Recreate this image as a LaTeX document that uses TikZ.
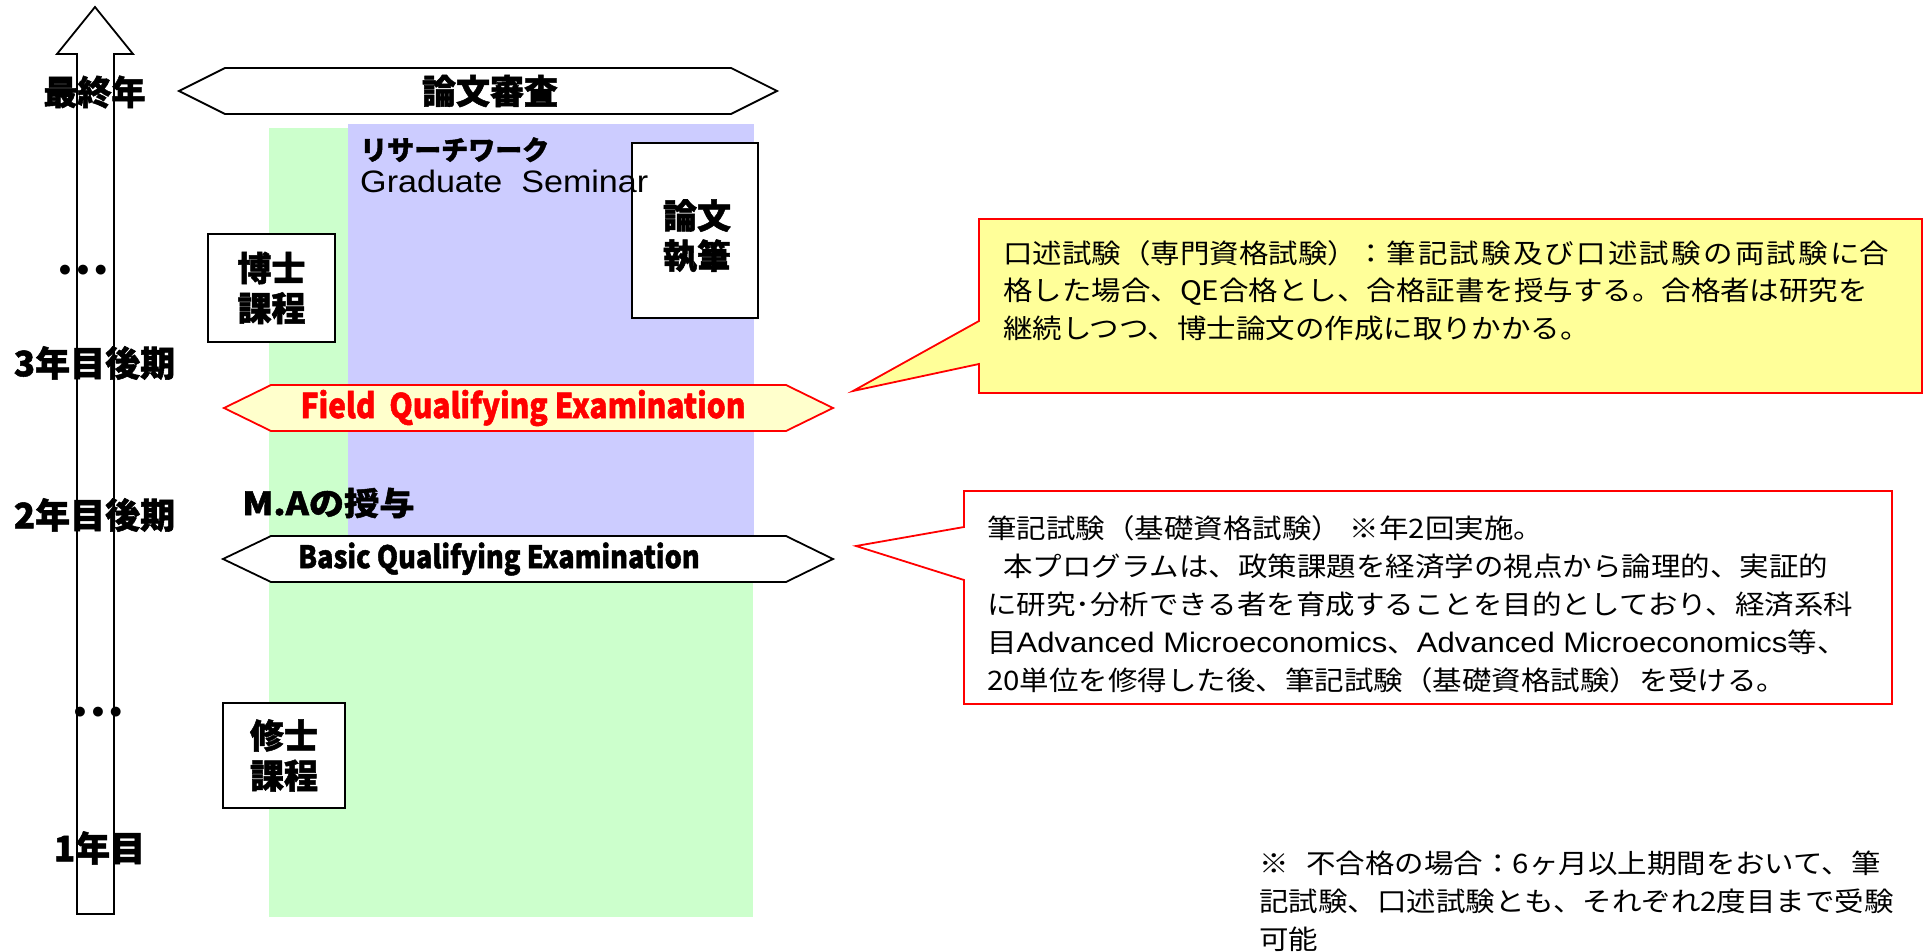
\documentclass[tikz,border=0pt]{standalone}
\usepackage{fontspec}
\setmainfont{Noto Sans CJK JP}
\newfontfamily\jp{Noto Sans CJK JP}
\newfontfamily\jpsp{Noto Sans CJK JP}[LetterSpace=7.5]
\newfontfamily\jph{Noto Sans CJK JP}[BoldFeatures={FakeBold=1.5}]
\newfontfamily\arial{Liberation Sans}
\newfontfamily\dv{DejaVu Sans}
\definecolor{lgreen}{HTML}{CCFFCC}
\definecolor{lpurple}{HTML}{CCCCFF}
\definecolor{lyellow}{HTML}{FFFFCC}
\definecolor{cyellow}{HTML}{FFFF99}
\definecolor{pred}{HTML}{FF0000}
\newcommand{\latn}[1]{{\arial\fontsize{28.2}{38}\selectfont #1}}
\begin{document}
\begin{tikzpicture}[x=1pt,y=-1pt,
  outl/.style={draw=black, line width=1.8pt, fill=white, line join=miter},
  redl/.style={draw=pred, line width=1.8pt, line join=miter},
  biglbl/.style={font=\jph\bfseries\fontsize{34}{40}\selectfont, inner sep=0pt},
  yearlbl/.style={font=\jph\bfseries\fontsize{35}{40}\selectfont, inner sep=0pt},
  dotlbl/.style={font=\dv\bfseries\fontsize{28}{30}\selectfont, inner sep=0pt},
  courselbl/.style={outl, font=\jph\bfseries\fontsize{34}{40}\selectfont, align=center, inner sep=0pt},
  qelbl/.style={font=\jph\bfseries\fontsize{31}{36}\selectfont, inner sep=0pt, xscale=0.875},
  bodytxt/.style={font=\jp\fontsize{26.8}{38}\selectfont, inner sep=0pt, anchor=base west, xscale=1.1},
]
\useasboundingbox (0,0) rectangle (1930,952);
\fill[white] (0,0) rectangle (1930,952);

% background bands
\fill[lgreen] (269,128) rectangle (753,917);
\fill[lpurple] (348,124) rectangle (754,559);

% time axis arrow
\draw[outl] (77,914) -- (77,54) -- (57,54) -- (95,7) -- (133,54) -- (114,54) -- (114,914) -- cycle;

% thesis review double arrow
\draw[outl] (179,91) -- (225,68) -- (731,68) -- (777,91) -- (731,114) -- (225,114) -- cycle;
\node[biglbl] (shinsa) at (490,91) {論文審査};

% thesis writing box
\node[outl, minimum width=126pt, minimum height=175pt, inner sep=0pt] (shippitsu) at (695,230.5) {};
\node[biglbl, align=center] (shippitsutxt) at (697,236) {論文\\執筆};

% research work
\node[font=\jph\bfseries\fontsize{27}{30}\selectfont, inner sep=0pt, anchor=base west] (research) at (360,160) {リサーチワーク};
\node[font=\arial\fontsize{31}{34}\selectfont, inner sep=0pt, anchor=base west, xscale=1.1] (seminar) at (360,193) {Graduate\ \ Seminar};

% doctoral course box
\node[courselbl, minimum width=127pt, minimum height=108pt] (hakase) at (271.5,288) {博士\\課程};

% Field QE
\draw[redl, fill=lyellow] (224,408) -- (271,385) -- (786,385) -- (833,408) -- (786,431) -- (271,431) -- cycle;
\node[font=\jph\bfseries\fontsize{34}{38}\selectfont, text=pred, inner sep=0pt, xscale=0.88] (fqe) at (523,408) {Field\ \ Qualifying Examination};

% M.A
\node[font=\jph\bfseries\fontsize{32}{36}\selectfont, inner sep=0pt, xscale=1.1] (ma) at (328.5,503) {M.Aの授与};

% Basic QE
\draw[outl] (223,559) -- (271,536) -- (786,536) -- (833,559) -- (786,582) -- (271,582) -- cycle;
\node[qelbl] (bqe) at (499,559) {Basic Qualifying Examination};

% master course box
\node[courselbl, minimum width=122pt, minimum height=105pt] (shushi) at (284,755.5) {修士\\課程};

% year labels
\node[biglbl] (final) at (94.5,92) {最終年};
\node[dotlbl] (dots1) at (83,273) {•••};
\node[yearlbl] (y3) at (94.5,363) {3年目後期};
\node[yearlbl] (y2) at (94.5,515) {2年目後期};
\node[dotlbl] (dots2) at (98,715) {•••};
\node[yearlbl] (y1) at (99.5,848) {1年目};

% callout 1 (oral exam)
\draw[redl, fill=cyellow] (979,219) -- (1922,219) -- (1922,393) -- (979,393) -- (979,364) -- (853,391) -- (979,321) -- cycle;
\node[bodytxt] (c1a) at (1003,263) {口述試験（専門資格試験）：{\jpsp 筆記試験及び口述試験の両試験に}合};
\node[bodytxt] (c1b) at (1003,300.5) {格した場合、QE合格とし、合格証書を授与する。合格者は研究を};
\node[bodytxt] (c1c) at (1003,338) {継続しつつ、博士論文の作成に取りかかる。};

% callout 2 (written exam)
\draw[redl, fill=white] (964,491) -- (1892,491) -- (1892,704) -- (964,704) -- (964,580) -- (856,546) -- (964,527) -- cycle;
\node[bodytxt] (c2a) at (987,538) {筆記試験（基礎資格試験）\hspace{0.3em}※年2回実施。};
\node[bodytxt] (c2b) at (987,576) {\hspace*{0.55em}本プログラムは、政策課題を経済学の視点から論理的、実証的};
\node[bodytxt] (c2c) at (987,614) {に研究･分析できる者を育成することを目的としており、経済系科};
\node[bodytxt] (c2d) at (987,652) {目\latn{Advanced Microeconomics}、\latn{Advanced Microeconomics}等、};
\node[bodytxt] (c2e) at (987,690) {20単位を修得した後、筆記試験（基礎資格試験）を受ける。};

% note
\node[bodytxt] (n1) at (1259,873) {※\hspace{0.6em}不合格の場合：6ヶ月以上期間をおいて、筆};
\node[bodytxt] (n2) at (1259,911) {記試験、口述試験とも、それぞれ2度目まで受験};
\node[bodytxt] (n3) at (1259,949) {可能};
\end{tikzpicture}
\end{document}
